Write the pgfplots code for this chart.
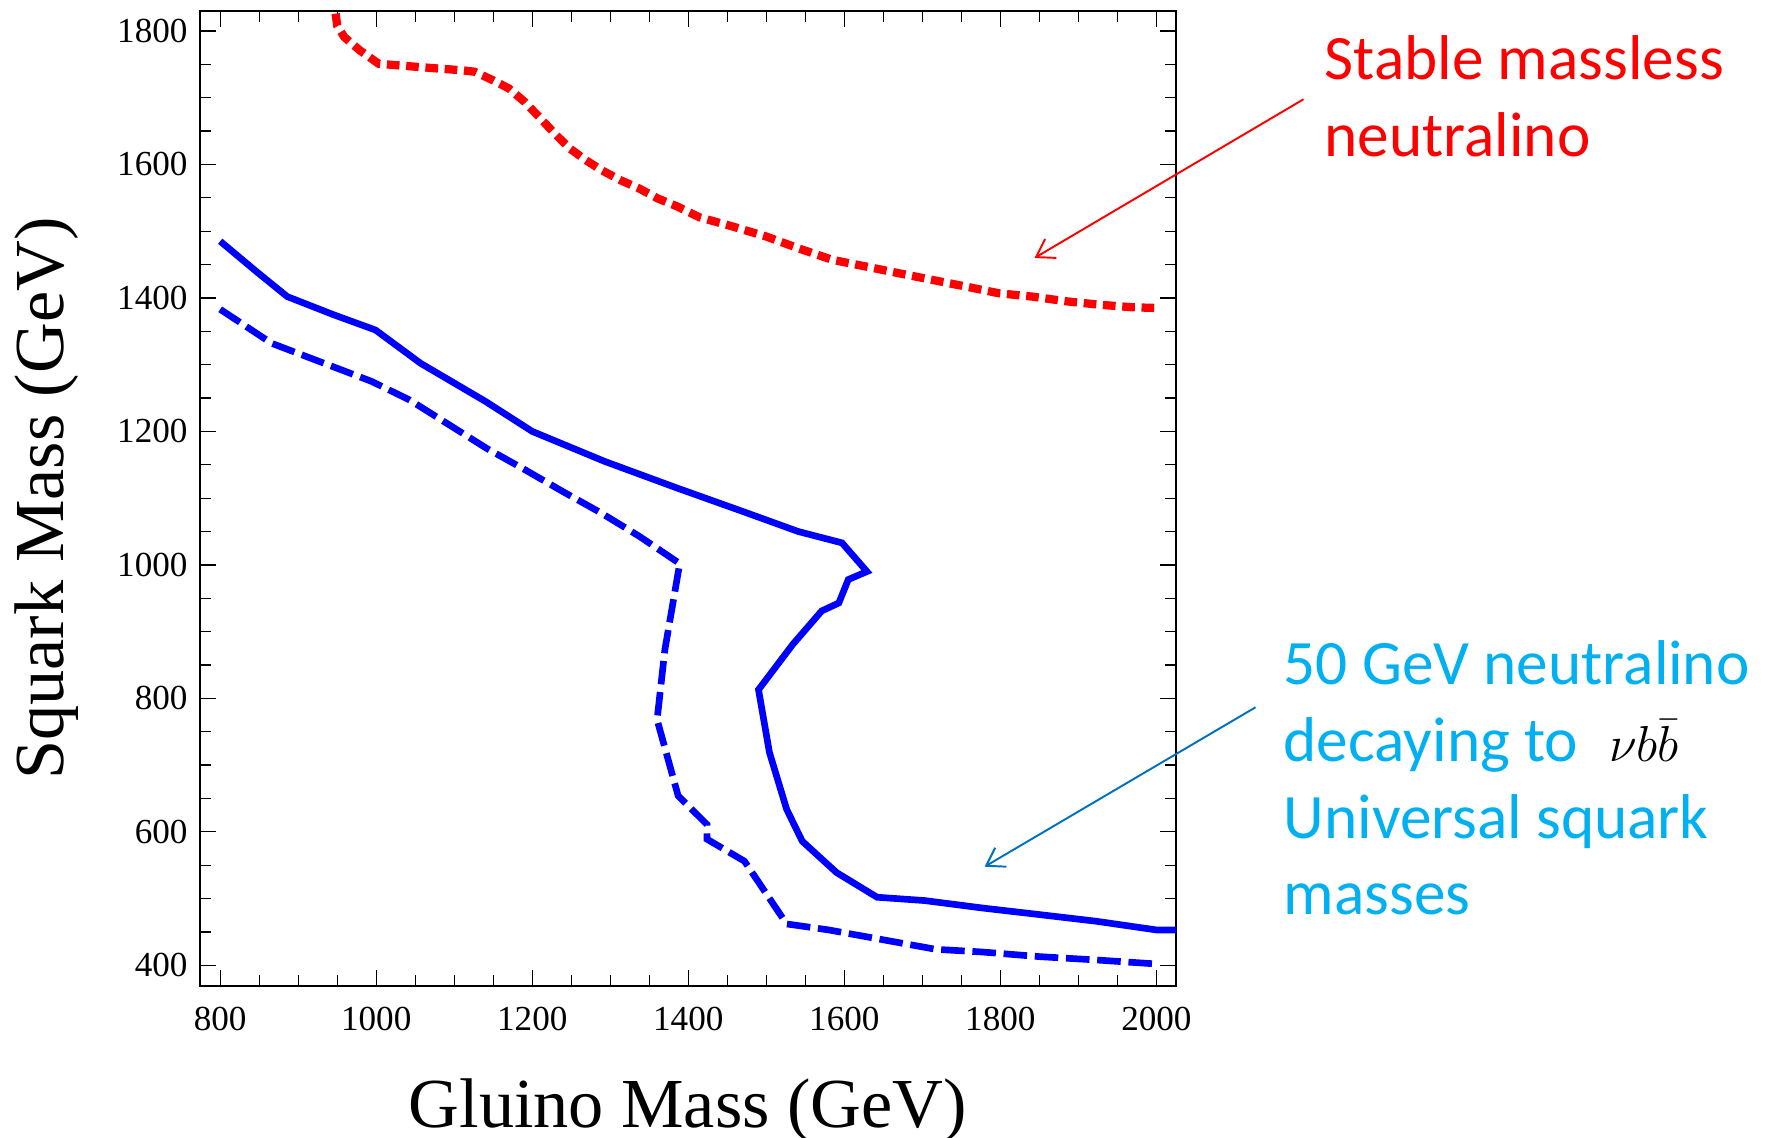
\documentclass[border=0pt]{standalone}
\usepackage{fontspec}
\setmainfont{Liberation Serif}
\newfontfamily\calibri{Carlito}
\usepackage{pgfplots}
\pgfplotsset{compat=1.18}
\usetikzlibrary{arrows.meta}
\definecolor{pptred}{RGB}{255,0,0}
\definecolor{pptcyan}{RGB}{0,176,240}
\definecolor{pptarrow}{RGB}{0,112,192}

\begin{document}
\begin{tikzpicture}
\useasboundingbox (0,0) rectangle (176.7mm,113.8mm);
\begin{axis}[
    at={(19.99mm,15.2mm)}, anchor=south west,
    width=97.6mm, height=97.5mm, scale only axis,
    xmin=774, xmax=2025, ymin=369, ymax=1830,
    xtick={800,1000,...,2000}, ytick={400,600,...,1800},
    minor tick num=3,
    tick align=inside, tick pos=both,
    major tick length=1.6mm, minor tick length=1.1mm,
    every tick/.style={black, line width=0.35pt},
    axis line style={line width=0.6pt},
    ticklabel style={font=\fontsize{10}{12}\selectfont},
    xticklabel style={yshift=-0.9mm},
    /pgf/number format/assume math mode=true,
    /pgf/number format/1000 sep={},
    xlabel={Gluino Mass (GeV)}, ylabel={Squark Mass (GeV)},
    label style={font=\fontsize{20}{24}\selectfont},
    xlabel style={at={(axis description cs:0.5,-0.128)}, anchor=center},
    ylabel style={at={(axis description cs:-0.157,0.5)}, anchor=center},
]
% stable massless neutralino
\addplot[pptred, line width=2.35pt, dash pattern=on 3.6pt off 1.9pt] coordinates {
    (948,1826) (950,1808) (959,1791) (979,1771) (1003,1751) (1023,1749)
    (1077,1744) (1111,1741) (1126,1739) (1150,1726) (1170,1714) (1190,1694)
    (1209,1671) (1229,1646) (1248,1624) (1268,1607) (1288,1592) (1312,1577)
    (1337,1564) (1361,1549) (1386,1537) (1414,1521) (1457,1507) (1500,1492)
    (1542,1474) (1585,1457) (1628,1447) (1670,1437) (1713,1427) (1756,1417)
    (1798,1407) (1841,1402) (1884,1395) (1926,1390) (1969,1386) (2000,1385)
};
% 50 GeV neutralino, solid
\addplot[blue, line width=1.9pt] coordinates {
    (800,1485) (847,1439) (886,1402) (945,1375) (999,1352) (1057,1302)
    (1140,1245) (1200,1200) (1293,1155) (1386,1115) (1470,1080) (1541,1050)
    (1597,1033) (1629,990) (1605,978) (1593,943) (1571,931) (1534,881)
    (1490,813) (1504,719) (1526,634) (1546,586) (1590,539) (1642,502)
    (1703,497) (1776,486) (1850,476) (1923,466) (2000,453) (2026,453)
};
% 50 GeV neutralino, dashed
\addplot[blue, line width=1.9pt, dash pattern=on 6.7pt off 2.2pt] coordinates {
    (800,1383) (866,1332) (994,1275) (1043,1247) (1141,1175) (1190,1143)
    (1239,1110) (1288,1078) (1337,1043) (1389,1002) (1370,873) (1360,768)
    (1387,654) (1424,611) (1424,589) (1472,556) (1526,462) (1580,453)
    (1717,424) (1776,420) (1850,413) (1923,408) (2000,402)
};
\end{axis}

\begin{scope}[x=0.1mm, y=-0.1mm, shift={(0,113.8mm)}]
\draw[pptred, line width=0.55pt, -{Straight Barb[length=1.7mm,width=2.2mm]}]
    (1303.5,99.3) -- (1034.5,258);
\draw[pptarrow, line width=0.55pt, -{Straight Barb[length=1.7mm,width=2.2mm]}]
    (1255.5,707.3) -- (984.6,866.7);
\begin{scope}[every node/.style={anchor=base west, inner sep=0pt,
        font=\calibri\fontsize{18}{21.7}\selectfont}]
\node[text=pptred] at (1324,80) {Stable massless};
\node[text=pptred] at (1324,156.7) {neutralino};
\node[text=pptcyan] at (1283,685) {50 GeV neutralino};
\node[text=pptcyan] at (1283,761.7) {decaying to\hspace{3.1mm}\textcolor{black}{\fontsize{15}{18}\selectfont$\nu b\bar{b}$}};
\node[text=pptcyan] at (1283,838.3) {Universal squark};
\node[text=pptcyan] at (1283,915) {masses};
\end{scope}
\end{scope}
\end{tikzpicture}
\end{document}
